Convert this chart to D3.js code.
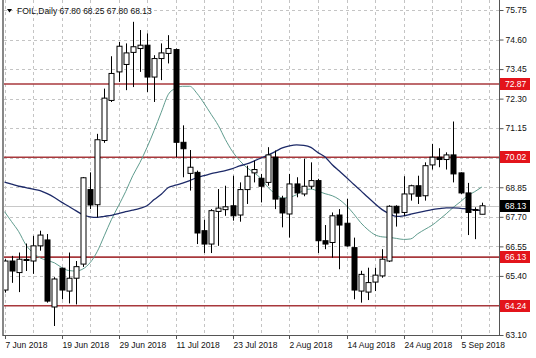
<!DOCTYPE html>
<html>
<head>
<meta charset="utf-8">
<script src="https://cdn.jsdelivr.net/npm/d3@7"></script>
<style>
  body { margin: 0; background: #fff; }
  text { font-family: "Liberation Sans", Arial, sans-serif; }
</style>
</head>
<body>
<div id="chart"></div>
<script>
// trading days (one per candle)
var dates = [
  "2018-06-07","2018-06-08","2018-06-11","2018-06-12","2018-06-13","2018-06-14","2018-06-15","2018-06-18",
  "2018-06-19","2018-06-20","2018-06-21","2018-06-22","2018-06-25","2018-06-26","2018-06-27","2018-06-28",
  "2018-06-29","2018-07-02","2018-07-03","2018-07-04","2018-07-05","2018-07-06","2018-07-09","2018-07-10",
  "2018-07-11","2018-07-12","2018-07-13","2018-07-16","2018-07-17","2018-07-18","2018-07-19","2018-07-20",
  "2018-07-23","2018-07-24","2018-07-25","2018-07-26","2018-07-27","2018-07-30","2018-07-31","2018-08-01",
  "2018-08-02","2018-08-03","2018-08-06","2018-08-07","2018-08-08","2018-08-09","2018-08-10","2018-08-13",
  "2018-08-14","2018-08-15","2018-08-16","2018-08-17","2018-08-20","2018-08-21","2018-08-22","2018-08-23",
  "2018-08-24","2018-08-27","2018-08-28","2018-08-29","2018-08-30","2018-08-31","2018-09-03","2018-09-04",
  "2018-09-05","2018-09-06","2018-09-07","2018-09-10"
];

var opens = [
  64.85,65.98,65.53,66.00,65.98,66.57,66.80,64.19, 65.70,64.81,65.31,65.86,68.76,68.17,70.67,72.23,
  73.34,73.63,74.10,74.25,74.38,73.14,73.86,74.06, 74.21,70.60,69.39,69.43,67.16,66.64,67.91,67.98,
  68.13,67.77,68.76,69.41,69.20,69.04,70.02,68.42, 67.81,68.98,68.59,68.89,69.11,66.77,66.70,67.77,
  67.45,66.50,64.81,64.77,65.16,65.40,65.98,68.11, 67.87,68.59,68.91,68.52,69.72,70.02,69.93,70.11,
  69.41,68.63,67.98,67.80
];
var highs = [
  66.05,66.18,66.31,66.66,66.96,67.16,67.03,65.35, 65.72,66.31,65.98,69.25,69.43,70.93,72.69,73.95,
  74.51,74.45,75.29,74.97,74.84,73.99,74.45,74.77, 74.25,71.26,70.30,69.50,67.59,68.00,68.78,68.91,
  69.30,69.04,69.69,69.89,69.37,70.41,70.28,68.52, 69.37,69.24,69.96,69.82,69.18,67.38,67.87,68.00,
  68.40,66.89,65.60,65.72,65.72,66.44,68.15,68.15, 69.28,68.95,69.30,69.82,70.54,70.37,70.21,71.41,
  69.43,69.02,68.07,68.25
];
var lows = [
  64.75,65.13,64.77,65.59,65.48,66.38,64.36,63.45, 64.49,64.33,64.29,65.75,68.00,67.68,70.58,72.17,
  72.95,72.63,72.75,73.34,72.56,72.17,73.02,73.67, 70.02,69.24,68.72,66.64,66.29,66.29,66.57,67.74,
  67.55,67.51,68.20,69.04,68.26,68.91,68.00,67.29, 66.89,68.46,68.50,68.78,66.29,66.44,66.11,65.66,
  66.54,64.49,64.36,64.46,64.81,65.33,65.94,67.32, 67.74,68.33,68.20,68.33,69.54,69.63,69.54,69.04,
  68.59,66.99,66.83,67.80
];
var closes = [
  65.98,65.59,66.05,66.04,66.57,66.99,64.42,65.28, 64.85,65.31,65.76,69.22,68.16,70.70,72.32,73.28,
  74.34,74.08,74.32,74.38,73.14,73.86,74.08,74.25, 70.60,70.35,69.63,67.07,66.64,67.94,68.04,68.09,
  67.74,68.76,69.28,69.54,68.89,70.11,68.39,67.85, 68.98,68.63,68.89,69.11,66.77,66.64,67.74,67.38,
  66.57,64.85,65.46,65.14,65.43,66.05,68.11,67.85, 68.59,68.91,68.50,69.69,70.02,69.93,70.11,69.37,
  68.63,67.87,67.95,68.13
];

// moving averages
var maSlow = [
  69.05,68.97,68.89,68.84,68.78,68.72,68.60,68.45, 68.27,68.11,67.94,67.78,67.70,67.68,67.72,67.76,
  67.82,67.90,67.96,68.03,68.13,68.37,68.58,68.84, 68.93,69.01,69.11,69.23,69.30,69.38,69.44,69.50,
  69.58,69.68,69.76,69.87,69.99,70.11,70.24,70.38, 70.46,70.50,70.48,70.40,70.20,70.03,69.73,69.48,
  69.23,68.97,68.72,68.46,68.21,67.98,67.82,67.72, 67.74,67.80,67.86,67.92,67.98,68.02,68.05,68.05,
  68.03,68.00,67.98,67.94
];
var maFast = [
  67.90,67.51,67.12,66.61,66.30,66.10,66.00,65.91, 65.73,65.61,65.59,65.67,65.91,66.34,66.96,67.59,
  68.13,68.68,69.30,69.81,70.40,71.06,71.77,72.47, 72.70,72.78,72.78,72.51,72.12,71.69,71.26,70.71,
  70.24,69.89,69.62,69.42,69.19,68.84,68.60,68.43, 68.46,68.56,68.74,68.78,68.70,68.60,68.52,68.37,
  68.13,67.82,67.47,67.20,67.00,66.92,66.90,66.86, 66.82,66.84,67.04,67.21,67.37,67.59,67.82,68.07,
  68.29,68.52,68.68,68.86
];

var priceTicks = [75.75, 74.60, 73.45, 72.30, 71.15, 70.00, 68.85, 67.70, 66.55, 65.40, 64.25, 63.10];
var dateTickIdx = [0, 8, 16, 24, 32, 40, 48, 56, 64];
var levels = [72.87, 70.02, 66.13, 64.24];
var lastPrice = 68.13;
var symbol = "FOIL,Daily";

var svgWidth = 536;
var svgHeight = 358;
var plot = { left: 4, right: 499, top: 0, bottom: 335 };

var parseDate = d3.timeParse("%Y-%m-%d");
var fmtDate = d3.timeFormat("%-d %b %Y");
var fmtPrice = d3.format(".2f");

var svg = d3.select("#chart")
  .append("svg")
  .attr("width", svgWidth)
  .attr("height", svgHeight);

var x = d3.scaleLinear()
  .domain([0, dates.length - 1])
  .range([4.5, 4.5 + 7.125 * (dates.length - 1)]);

var y = d3.scaleLinear()
  .domain([63.10, 75.75])
  .range([335, 10]);

var px = i => Math.round(x(i)) + 0.5;

svg.append("clipPath").attr("id", "plotclip")
  .append("rect")
  .attr("x", plot.left).attr("y", plot.top)
  .attr("width", plot.right - plot.left).attr("height", plot.bottom - plot.top);

// grid
var grid = svg.append("g").attr("clip-path", "url(#plotclip)");
grid.selectAll(".hgrid")
  .data(priceTicks)
  .enter().append("line")
  .attr("x1", plot.left).attr("x2", plot.right)
  .attr("y1", d => Math.round(y(d)) + 0.5).attr("y2", d => Math.round(y(d)) + 0.5)
  .attr("stroke", "#c4c4c4").attr("stroke-dasharray", "3,3");

grid.selectAll(".vgrid")
  .data(d3.range(0, dates.length + 1, 4))
  .enter().append("line")
  .attr("x1", d => px(d)).attr("x2", d => px(d))
  .attr("y1", plot.top).attr("y2", plot.bottom)
  .attr("stroke", "#c4c4c4").attr("stroke-dasharray", "3,3");

// bid line
grid.append("line")
  .attr("x1", plot.left).attr("x2", plot.right)
  .attr("y1", Math.round(y(lastPrice)) + 0.5).attr("y2", Math.round(y(lastPrice)) + 0.5)
  .attr("stroke", "#c8c8c8");

// horizontal levels
grid.selectAll(".level")
  .data(levels)
  .enter().append("line")
  .attr("x1", plot.left).attr("x2", plot.right)
  .attr("y1", d => y(d)).attr("y2", d => y(d))
  .attr("stroke", "#a8383c").attr("stroke-width", 1.6);

// moving averages
var maLine = d3.line()
  .x((d, i) => x(i))
  .y(d => y(d))
  .curve(d3.curveMonotoneX);

grid.append("path")
  .datum(maFast)
  .attr("d", maLine)
  .attr("fill", "none")
  .attr("stroke", "#5f9c8e")
  .attr("stroke-width", 1);

grid.append("path")
  .datum(maSlow)
  .attr("d", maLine)
  .attr("fill", "none")
  .attr("stroke", "#1d2a68")
  .attr("stroke-width", 1.3);

// candles
var candles = grid.selectAll(".candle")
  .data(dates.map((d, i) => i))
  .enter().append("g");

candles.append("line")
  .attr("x1", i => px(i)).attr("x2", i => px(i))
  .attr("y1", i => y(highs[i])).attr("y2", i => y(lows[i]))
  .attr("stroke", "#000");

candles.append("rect")
  .attr("x", i => px(i) - 2.5)
  .attr("width", 5)
  .attr("y", i => y(Math.max(opens[i], closes[i])))
  .attr("height", i => Math.max(0.5, Math.abs(y(opens[i]) - y(closes[i]))))
  .attr("fill", i => closes[i] >= opens[i] ? "#fff" : "#000")
  .attr("stroke", "#000");

// frame
svg.append("line").attr("x1", 3).attr("x2", 3).attr("y1", 0).attr("y2", 336)
  .attr("stroke", "#888").attr("stroke-width", 2);
svg.append("line").attr("x1", 3).attr("x2", 500).attr("y1", 335.5).attr("y2", 335.5)
  .attr("stroke", "#555");
svg.append("line").attr("x1", 499.5).attr("x2", 499.5).attr("y1", 0).attr("y2", 336)
  .attr("stroke", "#555");

// price axis
var rightAxis = d3.axisRight(y)
  .tickValues(priceTicks)
  .tickSize(4)
  .tickFormat(fmtPrice);

var ra = svg.append("g")
  .attr("transform", "translate(499.5,0)")
  .call(rightAxis);
ra.select(".domain").remove();
ra.selectAll("line").attr("stroke", "#555");
ra.selectAll("text").attr("x", 6).attr("fill", "#111")
  .style("font-family", "Liberation Sans, Arial, sans-serif").style("font-size", "8.5px");

// date axis
var bottomAxis = d3.axisBottom(x)
  .tickValues(dateTickIdx)
  .tickSize(4)
  .tickFormat(i => fmtDate(parseDate(dates[i])));

var ba = svg.append("g")
  .attr("transform", "translate(0,335)")
  .call(bottomAxis);
ba.select(".domain").remove();
ba.selectAll(".tick").attr("transform", d => `translate(${px(d)},0)`);
ba.selectAll("line").attr("stroke", "#555");
ba.selectAll("text")
  .attr("text-anchor", "start").attr("x", 0).attr("y", 7)
  .attr("fill", "#111")
  .style("font-family", "Liberation Sans, Arial, sans-serif").style("font-size", "8.5px");

// level labels
var lab = svg.selectAll(".lvlLabel")
  .data(levels)
  .enter().append("g")
  .attr("transform", d => `translate(500,${Math.round(y(d))})`);
lab.append("rect")
  .attr("x", 0).attr("y", -6).attr("width", 30).attr("height", 12)
  .attr("fill", "#e3141b");
lab.append("text")
  .attr("x", 5).attr("y", 3)
  .attr("fill", "#fff").style("font-size", "8.5px")
  .text(d => fmtPrice(d));

var bid = svg.append("g").attr("transform", `translate(500,${Math.round(y(lastPrice))})`);
bid.append("rect").attr("x", 0).attr("y", -6).attr("width", 30).attr("height", 12).attr("fill", "#000");
bid.append("text").attr("x", 5).attr("y", 3).attr("fill", "#fff").style("font-size", "8.5px")
  .text(fmtPrice(lastPrice));

// title
var n = dates.length - 1;
svg.append("path")
  .attr("d", "M7,9 L12,9 L9.5,12.5 Z")
  .attr("fill", "#000");
svg.append("text")
  .attr("x", 17).attr("y", 14)
  .attr("fill", "#111").style("font-size", "8.5px")
  .text(symbol + "  " + [opens[n], highs[n], lows[n], closes[n]].map(fmtPrice).join(" "));
</script>
</body>
</html>
